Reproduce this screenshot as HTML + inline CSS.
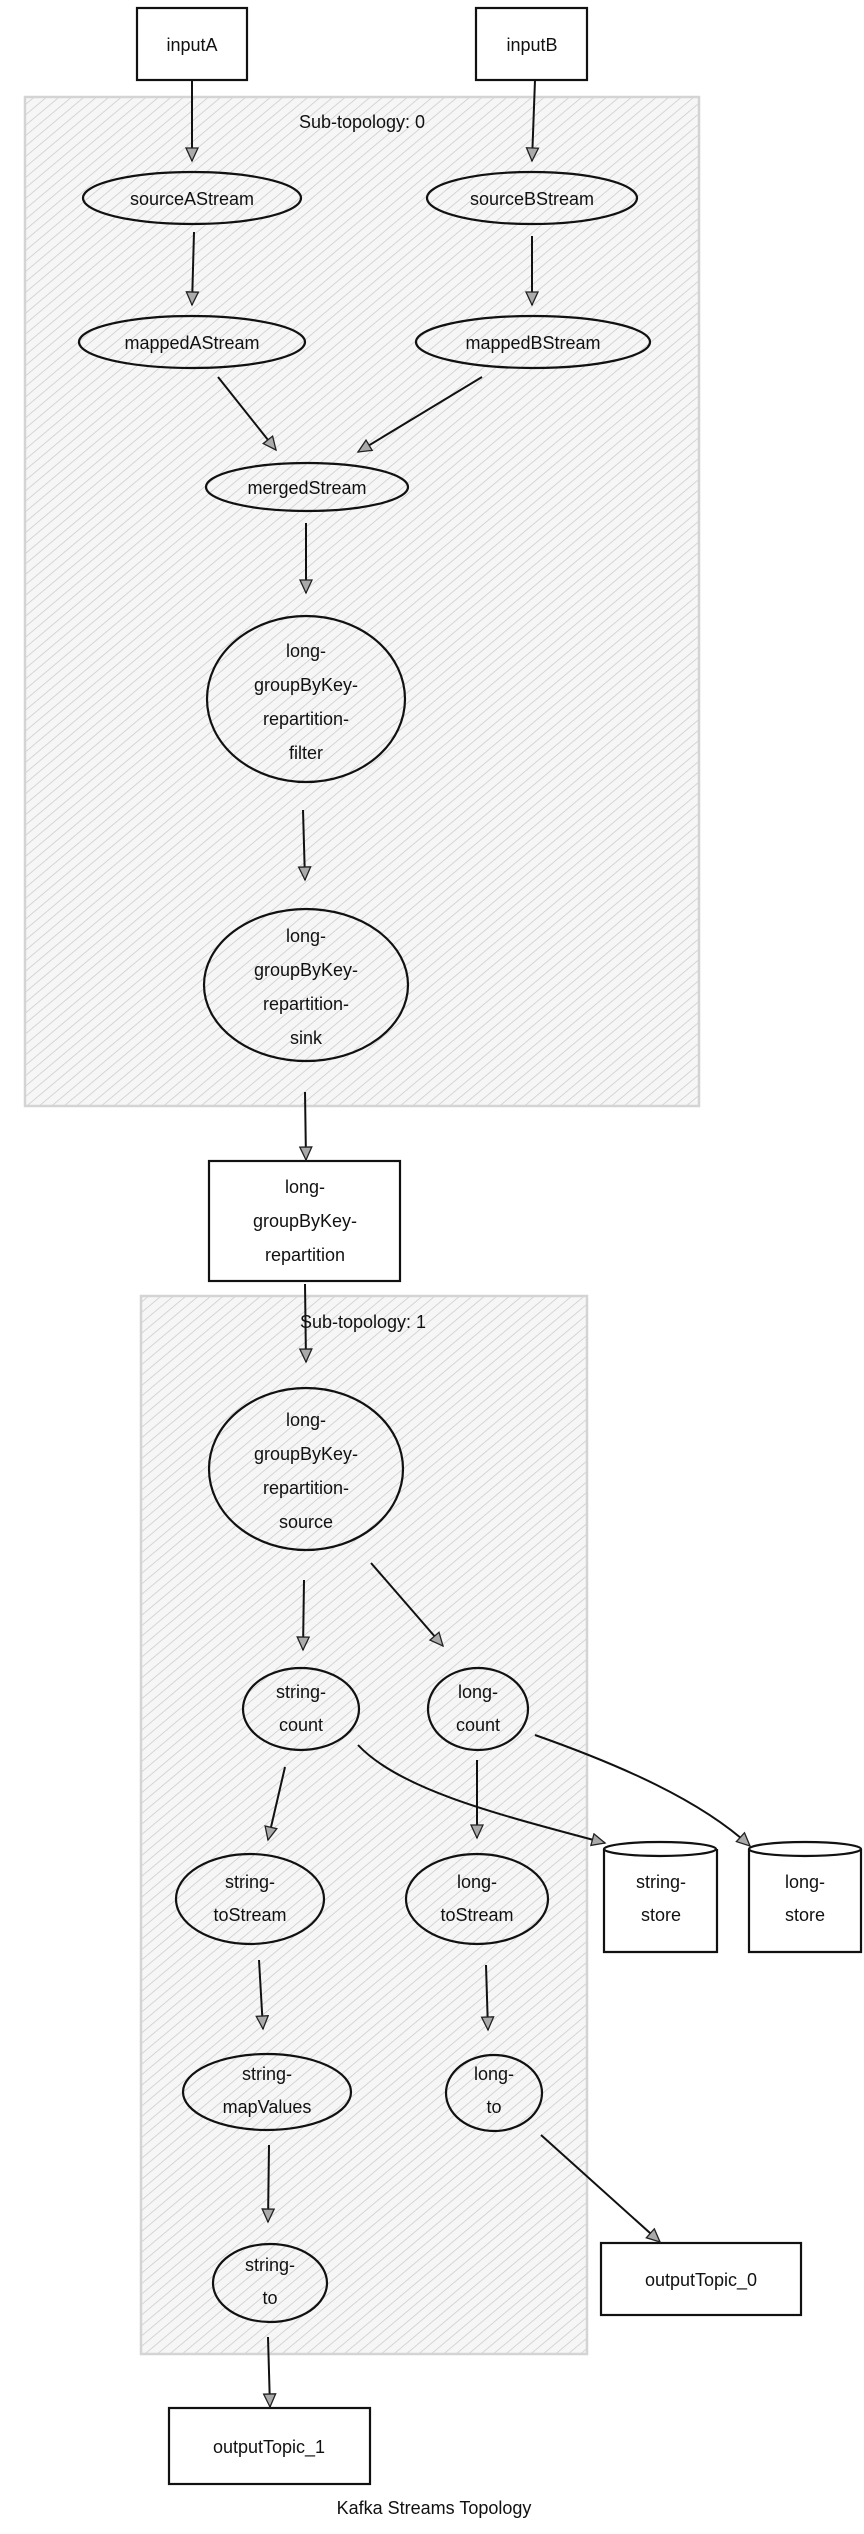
<!DOCTYPE html>
<html><head><meta charset="utf-8"><style>
html,body{margin:0;padding:0;background:#fff;width:864px;height:2534px;overflow:hidden}
svg{display:block}
text{font-family:"Liberation Sans",Arial,sans-serif;font-size:18px;fill:#111;text-anchor:middle}
</style></head><body>
<svg width="864" height="2534" viewBox="0 0 864 2534" xmlns="http://www.w3.org/2000/svg">
<defs>
<pattern id="h" width="8" height="8" patternUnits="userSpaceOnUse" patternTransform="rotate(50)">
<rect width="8" height="8" fill="#f6f6f6"/>
<line x1="0" y1="0" x2="0" y2="8" stroke="#c8c8c8" stroke-width="1.4"/>
</pattern>
<marker id="a" markerWidth="16" markerHeight="16" refX="14" refY="7" orient="auto" markerUnits="userSpaceOnUse">
<path d="M1,1 L14,7 L1,13 Z" fill="#aaa" stroke="#222" stroke-width="1.3"/>
</marker>
</defs>

<rect x="25" y="97" width="674" height="1009" fill="url(#h)" stroke="#d4d4d4" stroke-width="2.5"/>
<text x="362" y="128">Sub-topology: 0</text>
<rect x="141" y="1296" width="446" height="1058" fill="url(#h)" stroke="#d4d4d4" stroke-width="2.5"/>
<text x="363" y="1328">Sub-topology: 1</text>

<g fill="#fff" stroke="#111" stroke-width="2.2">
<rect x="137" y="8" width="110" height="72"/>
<rect x="476" y="8" width="111" height="72"/>
<rect x="209" y="1161" width="191" height="120"/>
<rect x="601" y="2243" width="200" height="72"/>
<rect x="169" y="2408" width="201" height="76"/>
</g>
<g fill="none" stroke="#111" stroke-width="2.2">
<ellipse cx="192" cy="198" rx="109" ry="26"/>
<ellipse cx="532" cy="198" rx="105" ry="26"/>
<ellipse cx="192" cy="342" rx="113" ry="26"/>
<ellipse cx="533" cy="342" rx="117" ry="26"/>
<ellipse cx="307" cy="487" rx="101" ry="24"/>
<ellipse cx="306" cy="699" rx="99" ry="83"/>
<ellipse cx="306" cy="985" rx="102" ry="76"/>
<ellipse cx="306" cy="1469" rx="97" ry="81"/>
<ellipse cx="301" cy="1709" rx="58" ry="41"/>
<ellipse cx="478" cy="1709" rx="50" ry="41"/>
<ellipse cx="250" cy="1899" rx="74" ry="45"/>
<ellipse cx="477" cy="1899" rx="71" ry="45"/>
<ellipse cx="267" cy="2092" rx="84" ry="38"/>
<ellipse cx="494" cy="2093" rx="48" ry="38"/>
<ellipse cx="270" cy="2283" rx="57" ry="39"/>
<path d="M604,1849 L604,1952 L717,1952 L717,1849"/>
<ellipse cx="660" cy="1849" rx="56" ry="7"/>
<path d="M749,1849 L749,1952 L861,1952 L861,1849"/>
<ellipse cx="805" cy="1849" rx="56" ry="7"/>
</g>

<g fill="none" stroke="#111" stroke-width="2" marker-end="url(#a)">
<path d="M192,80 L192,161"/>
<path d="M535,80 L532,161"/>
<path d="M194,232 L192,305"/>
<path d="M532,236 L532,305"/>
<path d="M218,377 L276,450"/>
<path d="M482,377 L358,452"/>
<path d="M306,523 L306,593"/>
<path d="M303,810 L305,880"/>
<path d="M305,1092 L306,1160"/>
<path d="M305,1284 L306,1362"/>
<path d="M304,1580 L303,1650"/>
<path d="M371,1563 L443,1646"/>
<path d="M285,1767 L268,1840"/>
<path d="M358,1745 C400,1790 500,1815 605,1843"/>
<path d="M477,1760 L477,1838"/>
<path d="M535,1735 C620,1765 700,1800 750,1846"/>
<path d="M259,1960 L263,2029"/>
<path d="M486,1965 L488,2030"/>
<path d="M269,2145 L268,2222"/>
<path d="M541,2135 L660,2242"/>
<path d="M268,2337 L270,2407"/>
</g>

<text x="192" y="51">inputA</text>
<text x="532" y="51">inputB</text>
<text x="192" y="205">sourceAStream</text>
<text x="532" y="205">sourceBStream</text>
<text x="192" y="349">mappedAStream</text>
<text x="533" y="349">mappedBStream</text>
<text x="307" y="494">mergedStream</text>
<text x="306" y="657">long-</text><text x="306" y="691">groupByKey-</text><text x="306" y="725">repartition-</text><text x="306" y="759">filter</text>
<text x="306" y="942">long-</text><text x="306" y="976">groupByKey-</text><text x="306" y="1010">repartition-</text><text x="306" y="1044">sink</text>
<text x="305" y="1193">long-</text><text x="305" y="1227">groupByKey-</text><text x="305" y="1261">repartition</text>
<text x="306" y="1426">long-</text><text x="306" y="1460">groupByKey-</text><text x="306" y="1494">repartition-</text><text x="306" y="1528">source</text>
<text x="301" y="1698">string-</text><text x="301" y="1731">count</text>
<text x="478" y="1698">long-</text><text x="478" y="1731">count</text>
<text x="250" y="1888">string-</text><text x="250" y="1921">toStream</text>
<text x="477" y="1888">long-</text><text x="477" y="1921">toStream</text>
<text x="661" y="1888">string-</text><text x="661" y="1921">store</text>
<text x="805" y="1888">long-</text><text x="805" y="1921">store</text>
<text x="267" y="2080">string-</text><text x="267" y="2113">mapValues</text>
<text x="494" y="2080">long-</text><text x="494" y="2113">to</text>
<text x="270" y="2271">string-</text><text x="270" y="2304">to</text>
<text x="701" y="2286">outputTopic_0</text>
<text x="269" y="2453">outputTopic_1</text>
<text x="434" y="2514">Kafka Streams Topology</text>
</svg>
</body></html>
